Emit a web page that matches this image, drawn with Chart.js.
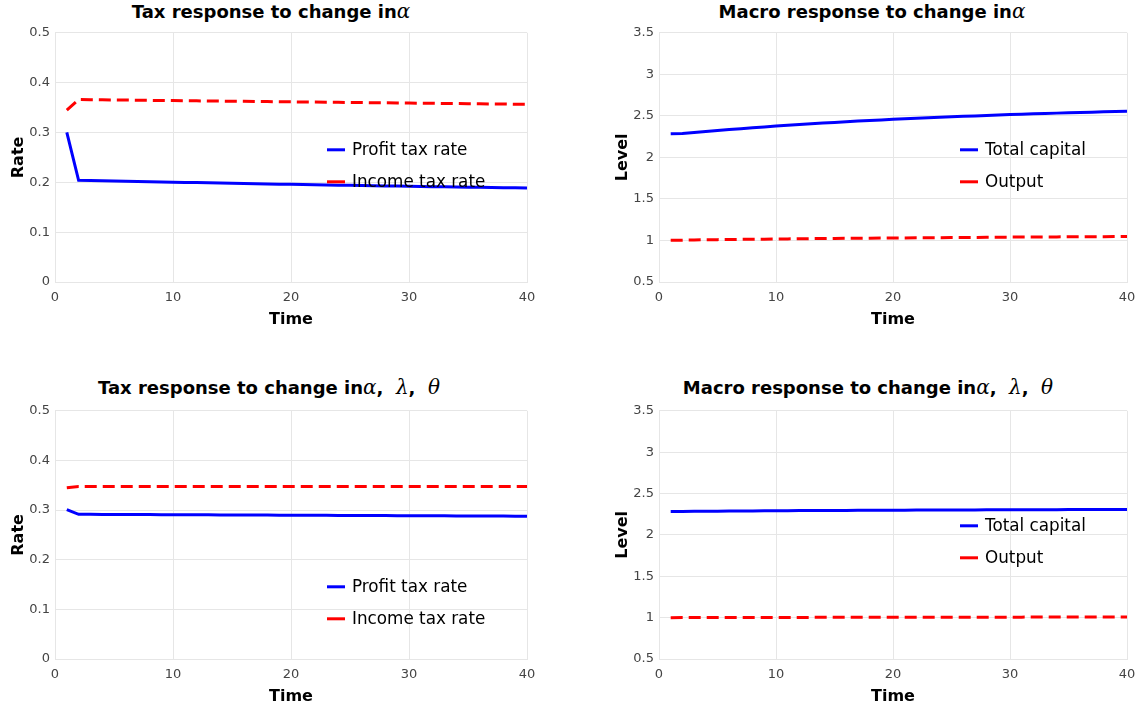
<!DOCTYPE html>
<html>
<head>
<meta charset="utf-8">
<script src="https://cdn.jsdelivr.net/npm/chart.js@4.4.1/dist/chart.umd.min.js"></script>
<style>
  html, body { margin:0; padding:0; background:#fff; }
  body { width:1144px; height:713px; position:relative; overflow:hidden; font-family:"DejaVu Sans", Verdana, sans-serif; }
  .box { position:absolute; }
  .ttl { position:absolute; transform:translate(-50%,-50%); white-space:nowrap; font:bold 18px "DejaVu Sans", sans-serif; color:#000; }
  .gk { font-family:"DejaVu Serif", "Liberation Serif", serif; font-style:italic; font-weight:normal; font-size:20px; }
</style>
</head>
<body>
<div class="ttl" style="left:271px;top:11px">Tax response to change in<span class="gk">α</span></div>
<div class="ttl" style="left:872px;top:11px">Macro response to change in<span class="gk">α</span></div>
<div class="ttl" style="left:269px;top:387px">Tax response to change in<span class="gk">α</span>,&nbsp; <span class="gk">λ</span>,&nbsp; <span class="gk">θ</span></div>
<div class="ttl" style="left:868px;top:387px">Macro response to change in<span class="gk">α</span>,&nbsp; <span class="gk">λ</span>,&nbsp; <span class="gk">θ</span></div>

<div class="box" style="left:0px;top:20px;width:545px;height:316px"><canvas id="c1"></canvas></div>
<div class="box" style="left:604px;top:20px;width:540px;height:316px"><canvas id="c2"></canvas></div>
<div class="box" style="left:0px;top:398px;width:545px;height:315px"><canvas id="c3"></canvas></div>
<div class="box" style="left:604px;top:398px;width:540px;height:315px"><canvas id="c4"></canvas></div>

<script>
// ---- Data ----
const time = [1,2,3,4,5,6,7,8,9,10,11,12,13,14,15,16,17,18,19,20,21,22,23,24,25,26,27,28,29,30,31,32,33,34,35,36,37,38,39,40];

// Panel 1: tax response to change in alpha
const profitTax1 = [0.300,0.204,0.2035,0.2031,0.2027,0.2022,0.2018,0.2013,0.2008,0.2003,0.1998,0.1994,0.1989,0.1985,0.1980,0.1976,0.1972,0.1967,0.1963,0.1959,0.1955,0.1951,0.1947,0.1943,0.1939,0.1935,0.1931,0.1928,0.1924,0.1920,0.1917,0.1913,0.1910,0.1906,0.1903,0.1899,0.1896,0.1893,0.1890,0.1887];
const incomeTax1 = [0.345,0.366,0.3657,0.3655,0.3652,0.3650,0.3647,0.3645,0.3642,0.3640,0.3637,0.3635,0.3632,0.3630,0.3627,0.3625,0.3622,0.3620,0.3617,0.3615,0.3612,0.3610,0.3607,0.3605,0.3602,0.3600,0.3597,0.3595,0.3592,0.3590,0.3587,0.3585,0.3582,0.3580,0.3577,0.3575,0.3572,0.3570,0.3567,0.3565];

// Panel 2: macro response to change in alpha
const capital2 = [2.285,2.288,2.300,2.312,2.324,2.335,2.346,2.357,2.367,2.377,2.387,2.396,2.405,2.413,2.421,2.429,2.437,2.444,2.451,2.458,2.465,2.471,2.477,2.483,2.489,2.494,2.499,2.505,2.510,2.515,2.519,2.524,2.528,2.533,2.537,2.541,2.545,2.549,2.553,2.557];
const output2 = [1.002,1.004,1.006,1.008,1.010,1.012,1.013,1.015,1.016,1.018,1.019,1.021,1.022,1.023,1.025,1.026,1.027,1.028,1.029,1.030,1.031,1.032,1.033,1.034,1.035,1.036,1.037,1.038,1.039,1.040,1.041,1.042,1.042,1.043,1.044,1.045,1.046,1.046,1.047,1.048];

// Panel 3: tax response to change in alpha, lambda, theta
const profitTax3 = [0.301,0.2915,0.2914,0.2913,0.2912,0.2911,0.2910,0.2909,0.2908,0.2907,0.2906,0.2905,0.2904,0.2903,0.2902,0.2901,0.2900,0.2899,0.2898,0.2897,0.2896,0.2895,0.2894,0.2893,0.2892,0.2891,0.2890,0.2889,0.2888,0.2887,0.2886,0.2885,0.2884,0.2883,0.2882,0.2881,0.2880,0.2879,0.2878,0.2877];
const incomeTax3 = [0.345,0.3475,0.3476,0.3476,0.3477,0.3477,0.3477,0.3477,0.3477,0.3477,0.3477,0.3477,0.3477,0.3477,0.3477,0.3477,0.3477,0.3477,0.3477,0.3477,0.3477,0.3477,0.3477,0.3477,0.3477,0.3477,0.3477,0.3477,0.3477,0.3477,0.3477,0.3477,0.3477,0.3477,0.3477,0.3477,0.3477,0.3477,0.3477,0.3477];

// Panel 4: macro response to change in alpha, lambda, theta
const capital4 = [2.282,2.284,2.285,2.286,2.287,2.288,2.289,2.290,2.291,2.292,2.293,2.294,2.294,2.295,2.296,2.296,2.297,2.298,2.298,2.299,2.299,2.300,2.300,2.301,2.301,2.302,2.302,2.303,2.303,2.304,2.304,2.305,2.305,2.305,2.306,2.306,2.307,2.307,2.307,2.308];
const output4 = [1.000,1.001,1.001,1.001,1.002,1.002,1.002,1.002,1.003,1.003,1.003,1.003,1.003,1.004,1.004,1.004,1.004,1.004,1.005,1.005,1.005,1.005,1.005,1.005,1.006,1.006,1.006,1.006,1.006,1.006,1.006,1.007,1.007,1.007,1.007,1.007,1.007,1.007,1.007,1.008];

const xTicks = [0, 10, 20, 30, 40];
const taxLabels = ["Profit tax rate", "Income tax rate"];
const macroLabels = ["Total capital", "Output"];

// ---- Drawing ----
const FONT = '"DejaVu Sans", Verdana, sans-serif';
const GRID = '#e6e6e6';

const insideLegend = {
  id: 'insideLegend',
  afterDraw(chart, args, opts) {
    const ctx = chart.ctx;
    const a = chart.chartArea;
    ctx.save();
    chart.data.datasets.forEach((ds, i) => {
      const y = a.top + opts.dy + i * 32;
      const x = a.left + opts.dx;
      ctx.strokeStyle = ds.borderColor;
      ctx.lineWidth = 3;
      ctx.setLineDash([]);
      ctx.beginPath();
      ctx.moveTo(x, y);
      ctx.lineTo(x + 18, y);
      ctx.stroke();
      ctx.fillStyle = '#000';
      ctx.font = '16.8px ' + FONT;
      ctx.textBaseline = 'middle';
      ctx.textAlign = 'left';
      ctx.fillText(ds.label, x + 25, y + 1);
    });
    ctx.restore();
  }
};

function mk(id, s1, s2, labels, yMin, yMax, yStep, yTitle, legDx, legDy, padRight) {
  const pts = arr => arr.map((v, i) => ({ x: time[i], y: v }));
  new Chart(document.getElementById(id), {
    type: 'line',
    data: {
      datasets: [
        { label: labels[0], data: pts(s1), borderColor: '#0000ff', borderWidth: 3, pointRadius: 0, tension: 0, fill: false },
        { label: labels[1], data: pts(s2), borderColor: '#ff0000', borderWidth: 3, borderDash: [12, 6], pointRadius: 0, tension: 0, fill: false }
      ]
    },
    options: {
      responsive: true,
      maintainAspectRatio: false,
      animation: false,
      events: [],
      layout: { padding: { top: 12, right: padRight, left: 0, bottom: 0 } },
      plugins: {
        legend: { display: false },
        tooltip: { enabled: false },
        insideLegend: { dx: legDx, dy: legDy }
      },
      scales: {
        x: {
          type: 'linear', min: 0, max: 40,
          afterBuildTicks: s => { s.ticks = xTicks.map(v => ({ value: v })); },
          afterFit: s => { s.height = 54; },
          grid: { color: GRID, drawTicks: false, lineWidth: 1 },
          border: { color: GRID },
          ticks: { color: '#444', font: { family: FONT, size: 13 }, padding: 8, maxRotation: 0 },
          title: { display: true, text: 'Time', color: '#000', font: { family: FONT, size: 16, weight: 'bold' }, padding: { top: 0, bottom: 7 } }
        },
        y: {
          min: yMin, max: yMax,
          ticks: { stepSize: yStep, color: '#444', font: { family: FONT, size: 13 }, padding: 5,
                   callback: v => String(parseFloat(Number(v).toFixed(3))) },
          afterFit: s => { s.width = 55; },
          grid: { color: GRID, drawTicks: false, lineWidth: 1 },
          border: { color: GRID },
          title: { display: true, text: yTitle, color: '#000', font: { family: FONT, size: 16, weight: 'bold' }, padding: { top: 9, bottom: 0 } }
        }
      }
    },
    plugins: [insideLegend]
  });
}

mk('c1', profitTax1, incomeTax1, taxLabels, 0, 0.5, 0.1, 'Rate', 272, 117, 18);
mk('c2', capital2, output2, macroLabels, 0.5, 3.5, 0.5, 'Level', 301, 117, 17);
mk('c3', profitTax3, incomeTax3, taxLabels, 0, 0.5, 0.1, 'Rate', 272, 176, 18);
mk('c4', capital4, output4, macroLabels, 0.5, 3.5, 0.5, 'Level', 301, 115, 17);
</script>
</body>
</html>
